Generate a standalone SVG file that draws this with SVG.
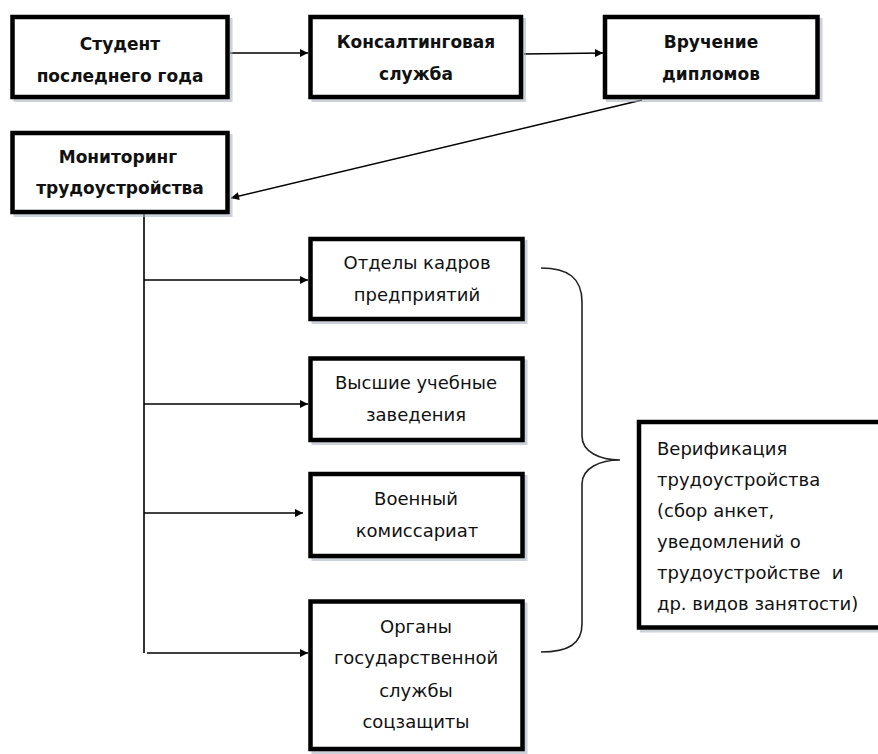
<svg xmlns="http://www.w3.org/2000/svg" width="878" height="754" viewBox="0 0 878 754">
<defs>
<style>
.box{fill:#fff;stroke:#000;stroke-width:4.5}
.sh{fill:none;stroke:#aab2c2;stroke-width:4;opacity:0.6}
.b{font-family:"DejaVu Sans",Verdana,sans-serif;font-weight:bold;font-size:17px;fill:#111;text-anchor:middle}
.r{font-family:"DejaVu Sans",Verdana,sans-serif;font-size:18px;fill:#111;text-anchor:middle}
.l{font-family:"DejaVu Sans",Verdana,sans-serif;font-size:18px;fill:#111}
.c{fill:none;stroke:#000;stroke-width:1.6}
.br{fill:none;stroke:#222;stroke-width:1.6}
</style>
<marker id="ah" viewBox="0 0 10 10" refX="10" refY="5" markerWidth="10" markerHeight="8" markerUnits="userSpaceOnUse" orient="auto">
<path d="M0,0 L10,5 L0,10 z" fill="#000"/>
</marker>
</defs>
<rect width="878" height="754" fill="#fff"/>

<g id="connectors">
<line class="c" x1="230" y1="53" x2="308" y2="53" marker-end="url(#ah)"/>
<line class="c" x1="524" y1="54" x2="603" y2="53" marker-end="url(#ah)"/>
<line class="c" x1="642" y1="100" x2="231" y2="198" marker-end="url(#ah)"/>
<polyline class="c" points="144,214 144,653"/>
<line class="c" x1="144" y1="280" x2="308" y2="280" marker-end="url(#ah)"/>
<line class="c" x1="144" y1="404" x2="308" y2="404" marker-end="url(#ah)"/>
<line class="c" x1="144" y1="513" x2="303" y2="513" marker-end="url(#ah)"/>
<line class="c" x1="147" y1="653" x2="308" y2="653" marker-end="url(#ah)"/>
<path id="brace" class="br" d="M541,268 C568,268 582,278 582,302 L582,436 C582,452 600,460 620,460 C600,460 582,468 582,484 L582,624 C582,644 568,652 541,652"/>
</g>

<g id="n1">
<rect class="sh" x="15.5" y="20" width="215" height="80"/>
<rect class="box" x="12.5" y="17" width="215" height="80"/>
<text class="b" x="120" y="50">Студент</text>
<text class="b" x="120" y="82">последнего года</text>
</g>
<g id="n2">
<rect class="sh" x="313.5" y="20" width="210.5" height="80"/>
<rect class="box" x="310.5" y="17" width="210.5" height="80"/>
<text class="b" x="416" y="48">Консалтинговая</text>
<text class="b" x="416" y="80">служба</text>
</g>
<g id="n3">
<rect class="sh" x="608" y="20" width="212.5" height="80"/>
<rect class="box" x="605" y="17" width="212.5" height="80"/>
<text class="b" x="711" y="48">Вручение</text>
<text class="b" x="711" y="80">дипломов</text>
</g>
<g id="n4">
<rect class="sh" x="15.5" y="136" width="215" height="79"/>
<rect class="box" x="12.5" y="133" width="215" height="79"/>
<text class="b" x="118" y="163">Мониторинг</text>
<text class="b" x="120" y="194">трудоустройства</text>
</g>
<g id="n5">
<rect class="sh" x="313.5" y="242" width="212" height="80"/>
<rect class="box" x="310.5" y="239" width="212" height="80"/>
<text class="r" x="417" y="269">Отделы кадров</text>
<text class="r" x="417" y="301">предприятий</text>
</g>
<g id="n6">
<rect class="sh" x="313.5" y="361.5" width="212" height="81.5"/>
<rect class="box" x="310.5" y="358.5" width="212" height="81.5"/>
<text class="r" x="416" y="389">Высшие учебные</text>
<text class="r" x="416" y="421">заведения</text>
</g>
<g id="n7">
<rect class="sh" x="313.5" y="477" width="212" height="82"/>
<rect class="box" x="310.5" y="474" width="212" height="82"/>
<text class="r" x="416" y="505">Военный</text>
<text class="r" x="417" y="537">комиссариат</text>
</g>
<g id="n8">
<rect class="sh" x="313.5" y="604.5" width="212" height="147.5"/>
<rect class="box" x="310.5" y="601.5" width="212" height="147.5"/>
<text class="r" x="416" y="633">Органы</text>
<text class="r" x="416" y="664">государственной</text>
<text class="r" x="416" y="697">службы</text>
<text class="r" x="416" y="728">соцзащиты</text>
</g>
<g id="n9">
<rect class="sh" x="642" y="425" width="250" height="205.5"/>
<rect class="box" x="639" y="422" width="250" height="205.5"/>
<text class="l" x="657" y="455">Верификация</text>
<text class="l" x="657" y="486">трудоустройства</text>
<text class="l" x="657" y="517">(сбор анкет,</text>
<text class="l" x="657" y="548">уведомлений о</text>
<text class="l" x="657" y="579" xml:space="preserve">трудоустройстве  и</text>
<text class="l" x="657" y="610">др. видов занятости)</text>
</g>
</svg>
